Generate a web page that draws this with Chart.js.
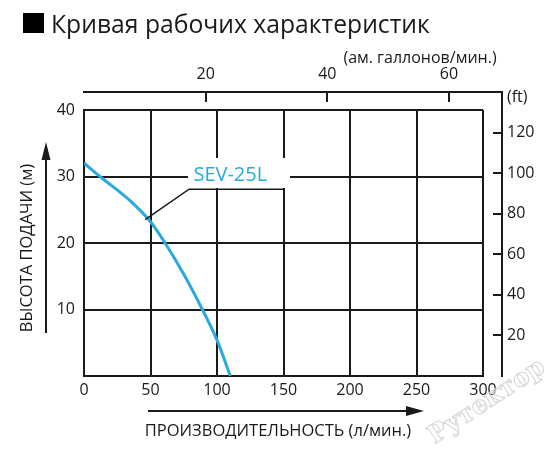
<!DOCTYPE html>
<html lang="ru">
<head>
    <meta charset="UTF-8">
    <title>Кривая рабочих характеристик</title>
    <script src="https://cdn.jsdelivr.net/npm/chart.js@4.4.1/dist/chart.umd.min.js"></script>
    <style>
        html, body { margin: 0; padding: 0; background: #fff; }
        #wrap { width: 550px; height: 450px; }
    </style>
</head>
<body>
<div id="wrap"><canvas id="chart" width="550" height="450"></canvas></div>

<script>
    // curve readings (flow l/min -> head m)
    const flow = [0, 12, 35, 50, 60, 75, 89, 100, 110];
    const head = [32, 30, 26.3, 23.2, 20.3, 15.3, 10, 5.4, 0];
    const seriesName = 'SEV-25L';

    // axis ranges / tick labels
    const flowTicks = [0, 50, 100, 150, 200, 250, 300];
    const headTicks = [10, 20, 30, 40];
    const galTicks = [20, 40, 60];
    const ftTicks = [20, 40, 60, 80, 100, 120];
    const galMax = 65.6;            // top scale as drawn in the picture
    const ftPerM = 3.2808;

    const FONT = '"Open Sans", "Noto Sans", sans-serif';
    const INK = '#1a1a1a';
    const BLUE = '#29a9de';

    const isTick = (list, v) => list.some(t => Math.abs(t - v) < 1e-6);

    const decor = {
        id: 'decor',
        afterDraw(chart) {
            const ctx = chart.ctx;
            const {x, y, xg, yft} = chart.scales;
            const area = chart.chartArea;
            ctx.save();

            // title
            ctx.fillStyle = '#000';
            ctx.fillRect(23, 13, 21, 20);
            ctx.fillStyle = INK;
            ctx.save();
            ctx.translate(51, 33);
            ctx.scale(0.95, 1);
            ctx.font = '26px ' + FONT;
            ctx.textBaseline = 'alphabetic';
            ctx.textAlign = 'left';
            ctx.fillText('Кривая рабочих характеристик', 0, 0);
            ctx.restore();

            // top gallons axis + right ft axis lines
            ctx.strokeStyle = INK;
            ctx.lineWidth = 2;
            const topY = 92, rightX = 502;
            ctx.beginPath();
            ctx.moveTo(area.left - 1, topY);
            ctx.lineTo(rightX, topY);
            ctx.lineTo(rightX, area.bottom + 1);
            ctx.stroke();
            galTicks.forEach(v => {
                const px = Math.round(xg.getPixelForValue(v));
                ctx.beginPath();
                ctx.moveTo(px, topY);
                ctx.lineTo(px, topY + 10);
                ctx.stroke();
            });
            ftTicks.forEach(v => {
                const py = Math.round(yft.getPixelForValue(v));
                ctx.beginPath();
                ctx.moveTo(rightX - 9, py);
                ctx.lineTo(rightX, py);
                ctx.stroke();
            });

            ctx.font = '16px ' + FONT;
            ctx.textBaseline = 'middle';
            ctx.textAlign = 'center';
            ctx.fillText('(ам. галлонов/мин.)', 420, 58);
            ctx.textAlign = 'left';
            ctx.fillText('(ft)', 507, 97);

            // y title with arrow
            ctx.beginPath();
            ctx.moveTo(46, 333);
            ctx.lineTo(46, 155);
            ctx.stroke();
            ctx.beginPath();
            ctx.moveTo(46, 142);
            ctx.lineTo(41.5, 160);
            ctx.lineTo(50.5, 160);
            ctx.closePath();
            ctx.fill();
            ctx.save();
            ctx.translate(27, 248);
            ctx.rotate(-Math.PI / 2);
            ctx.textAlign = 'center';
            ctx.font = '16.5px ' + FONT;
            ctx.fillText('ВЫСОТА ПОДАЧИ (м)', 0, 0);
            ctx.restore();

            // x title with arrow
            ctx.beginPath();
            ctx.moveTo(148, 411);
            ctx.lineTo(412, 411);
            ctx.stroke();
            ctx.beginPath();
            ctx.moveTo(424, 411);
            ctx.lineTo(406, 406);
            ctx.lineTo(406, 416);
            ctx.closePath();
            ctx.fill();
            ctx.textAlign = 'center';
            ctx.font = '16.5px ' + FONT;
            ctx.fillText('ПРОИЗВОДИТЕЛЬНОСТЬ (л/мин.)', 278, 431);

            // series label with leader
            const lx = x.getPixelForValue(110), ly = y.getPixelForValue(30);
            ctx.fillStyle = '#fff';
            ctx.fillRect(188, 158, 102, 30);
            ctx.fillStyle = BLUE;
            ctx.font = '20px ' + FONT;
            ctx.fillText(seriesName, lx, ly - 1);
            ctx.strokeStyle = INK;
            ctx.lineWidth = 1.5;
            ctx.beginPath();
            ctx.moveTo(x.getPixelForValue(46), y.getPixelForValue(23.5));
            ctx.lineTo(x.getPixelForValue(79), y.getPixelForValue(28.1));
            ctx.lineTo(x.getPixelForValue(150), y.getPixelForValue(28.1));
            ctx.stroke();

            // watermark
            ctx.save();
            ctx.translate(487, 402);
            ctx.rotate(-0.58);
            ctx.font = 'bold 25px "DejaVu Serif", serif';
            ctx.strokeStyle = '#d4d4d4';
            ctx.lineWidth = 1;
            ctx.textAlign = 'center';
            ctx.strokeText('Рутектор', 0, 0);
            ctx.restore();

            ctx.restore();
        }
    };

    const tickFont = {family: FONT, size: 16};

    new Chart(document.getElementById('chart'), {
        type: 'line',
        data: {
            datasets: [{
                label: seriesName,
                data: flow.map((f, i) => ({x: f, y: head[i]})),
                borderColor: BLUE,
                borderWidth: 3,
                pointRadius: 0,
                cubicInterpolationMode: 'monotone',
                fill: false
            }]
        },
        options: {
            responsive: false,
            animation: false,
            devicePixelRatio: 1,
            layout: {padding: 0},
            plugins: {legend: {display: false}, tooltip: {enabled: false}, title: {display: false}},
            scales: {
                x: {
                    type: 'linear', position: 'bottom',
                    min: flowTicks[0], max: flowTicks[flowTicks.length - 1],
                    ticks: {stepSize: 50, font: tickFont, color: INK, padding: 5, autoSkip: false},
                    grid: {color: INK, lineWidth: 2, drawTicks: false},
                    border: {color: INK, width: 2},
                    afterFit: s => { s.height = 74; }
                },
                y: {
                    type: 'linear', position: 'left',
                    min: 0, max: headTicks[headTicks.length - 1],
                    ticks: {
                        stepSize: 10, font: tickFont, color: INK, padding: 9, autoSkip: false,
                        callback: v => isTick(headTicks, v) ? v : null
                    },
                    grid: {color: INK, lineWidth: 2, drawTicks: false},
                    border: {color: INK, width: 2},
                    afterFit: s => { s.width = 84; }
                },
                xg: {
                    type: 'linear', position: 'top',
                    min: 0, max: galMax,
                    ticks: {
                        stepSize: 20, font: tickFont, color: INK, padding: 26, autoSkip: false,
                        maxRotation: 0, includeBounds: false,
                        callback: v => isTick(galTicks, v) ? v : null
                    },
                    grid: {display: false, drawTicks: false},
                    border: {display: false},
                    afterFit: s => { s.height = 110; }
                },
                yft: {
                    type: 'linear', position: 'right',
                    min: 0, max: headTicks[headTicks.length - 1] * ftPerM,
                    ticks: {
                        stepSize: 20, font: tickFont, color: INK, padding: 24, autoSkip: false,
                        includeBounds: false,
                        callback: v => isTick(ftTicks, v) ? v : null
                    },
                    grid: {display: false, drawTicks: false},
                    border: {display: false},
                    afterFit: s => { s.width = 67; }
                }
            }
        },
        plugins: [decor]
    });
</script>
</body>
</html>
